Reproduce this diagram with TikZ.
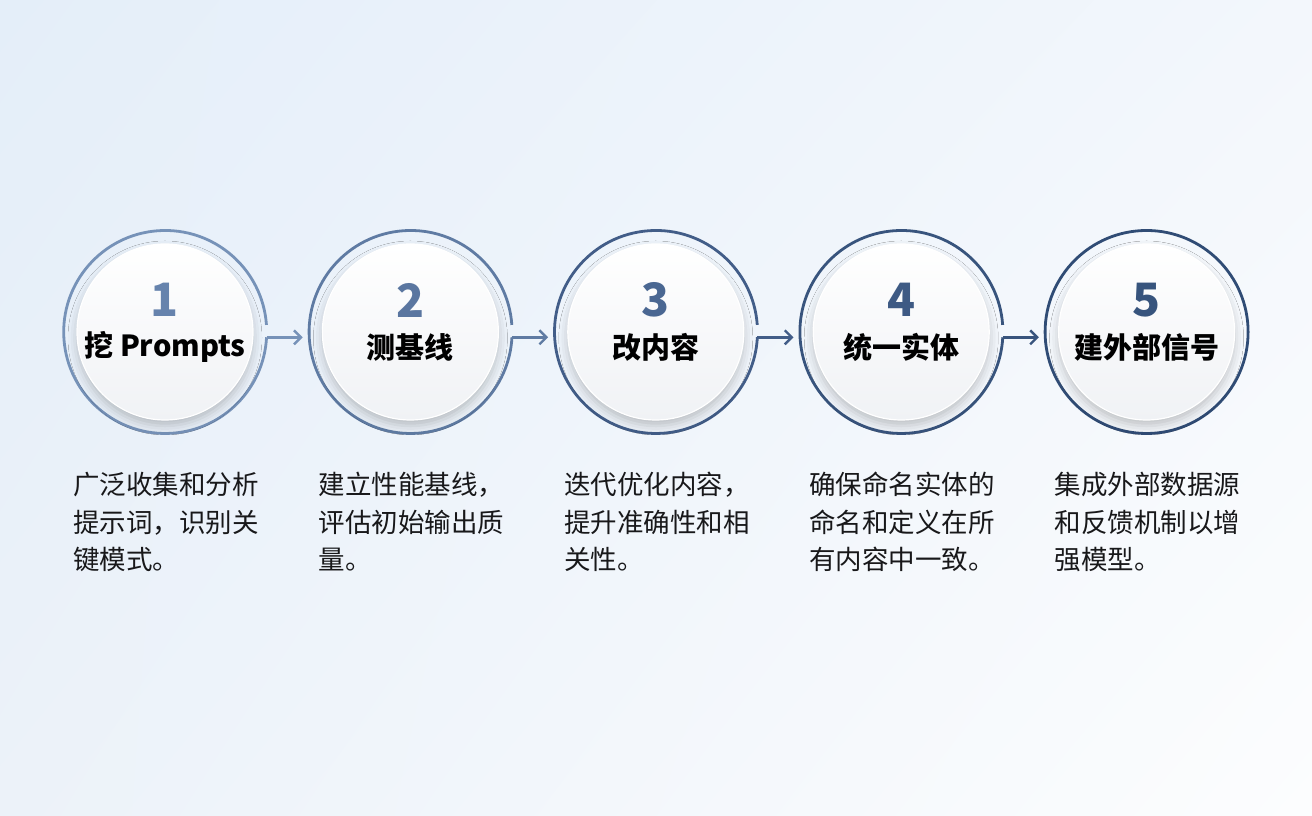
\documentclass[tikz,border=0pt]{standalone}
\usepackage{fontspec}
\setmainfont{Noto Sans CJK SC}
\usetikzlibrary{arrows.meta,positioning,shadows.blur,shadings}
\definecolor{ringA}{RGB}{118,146,184}
\definecolor{ringB}{RGB}{95,123,163}
\definecolor{ringC}{RGB}{66,93,136}
\definecolor{ringD}{RGB}{56,84,125}
\definecolor{ringE}{RGB}{48,76,117}
\definecolor{numA}{RGB}{102,131,173}
\definecolor{numB}{RGB}{90,118,160}
\definecolor{numC}{RGB}{74,103,146}
\definecolor{numD}{RGB}{62,90,132}
\definecolor{numE}{RGB}{55,84,125}
\definecolor{bgA}{RGB}{228,238,249}
\definecolor{bgB}{RGB}{243,247,252}
\definecolor{bgC}{RGB}{236,242,249}
\definecolor{bgD}{RGB}{252,253,254}
\definecolor{ink}{RGB}{24,24,26}
\begin{document}
\begin{tikzpicture}[x=1pt,y=1pt,
	every node/.style={inner sep=0pt},
	slot/.style={circle,minimum size=203pt},
	disc/.style={circle,minimum size=176pt,draw=white,line width=1.2pt,
		top color=white,bottom color={rgb,255:red,240;green,242;blue,245},
		blur shadow={shadow xshift=0pt,shadow yshift=-6pt,shadow blur radius=9pt,shadow opacity=22}},
	num/.style={font=\fontsize{46}{46}\selectfont\bfseries},
	title/.style={font=\fontsize{29}{29}\selectfont\bfseries,text=black},
	desc/.style={align=left,anchor=north west,text=ink,font=\fontsize{26.5}{37.5}\selectfont},
	ring/.style={line width=2.8pt},
	link/.style={line width=2.4pt,-{Straight Barb[length=7pt,width=14pt]},shorten >=6pt}]
% background
\shade[upper left=bgA,upper right=bgB,lower left=bgC,lower right=bgD] (0,0) rectangle (1312,816);
\useasboundingbox (0,0) rectangle (1312,816);

% slots for the five steps
\node[slot] (s1) at (165,484) {};
\node[slot,right=42pt of s1] (s2) {};
\node[slot,right=42pt of s2] (s3) {};
\node[slot,right=42pt of s3] (s4) {};
\node[slot,right=42pt of s4] (s5) {};

% rings and links
\draw[ring,ringA] (s1.4) arc[start angle=4,end angle=357,radius=101.5pt];
\draw[link,ringA] (s1.-3) -- (s2.west |- s1.-3);
\draw[ring,ringB] (s2.4) arc[start angle=4,end angle=357,radius=101.5pt];
\draw[link,ringB] (s2.-3) -- (s3.west |- s2.-3);
\draw[ring,ringC] (s3.4) arc[start angle=4,end angle=357,radius=101.5pt];
\draw[link,ringC] (s3.-3) -- (s4.west |- s3.-3);
\draw[ring,ringD] (s4.4) arc[start angle=4,end angle=357,radius=101.5pt];
\draw[link,ringD] (s4.-3) -- (s5.west |- s4.-3);
\draw[ring,ringE] (s5.center) circle[radius=101.5pt];

% discs
\node[disc] (c1) at (s1) {};
\node[disc] (c2) at (s2) {};
\node[disc] (c3) at (s3) {};
\node[disc] (c4) at (s4) {};
\node[disc] (c5) at (s5) {};

% numbers and titles
\node[num,text=numA] (n1) at ([yshift=32pt]c1.center) {1};
\node[title] (t1) at ([yshift=-15pt]c1.center) {挖 Prompts};
\node[num,text=numB] (n2) at ([yshift=32pt]c2.center) {2};
\node[title] (t2) at ([yshift=-15pt]c2.center) {测基线};
\node[num,text=numC] (n3) at ([yshift=32pt]c3.center) {3};
\node[title] (t3) at ([yshift=-15pt]c3.center) {改内容};
\node[num,text=numD] (n4) at ([yshift=32pt]c4.center) {4};
\node[title] (t4) at ([yshift=-15pt]c4.center) {统一实体};
\node[num,text=numE] (n5) at ([yshift=32pt]c5.center) {5};
\node[title] (t5) at ([yshift=-15pt]c5.center) {建外部信号};

% descriptions
\node[desc] (d1) at ([xshift=-92pt,yshift=-140pt]s1.center) {广泛收集和分析\\提示词，识别关\\键模式。};
\node[desc] (d2) at ([xshift=-92pt,yshift=-140pt]s2.center) {建立性能基线，\\评估初始输出质\\量。};
\node[desc] (d3) at ([xshift=-92pt,yshift=-140pt]s3.center) {迭代优化内容，\\提升准确性和相\\关性。};
\node[desc] (d4) at ([xshift=-92pt,yshift=-140pt]s4.center) {确保命名实体的\\命名和定义在所\\有内容中一致。};
\node[desc] (d5) at ([xshift=-92pt,yshift=-140pt]s5.center) {集成外部数据源\\和反馈机制以增\\强模型。};
\end{tikzpicture}
\end{document}
